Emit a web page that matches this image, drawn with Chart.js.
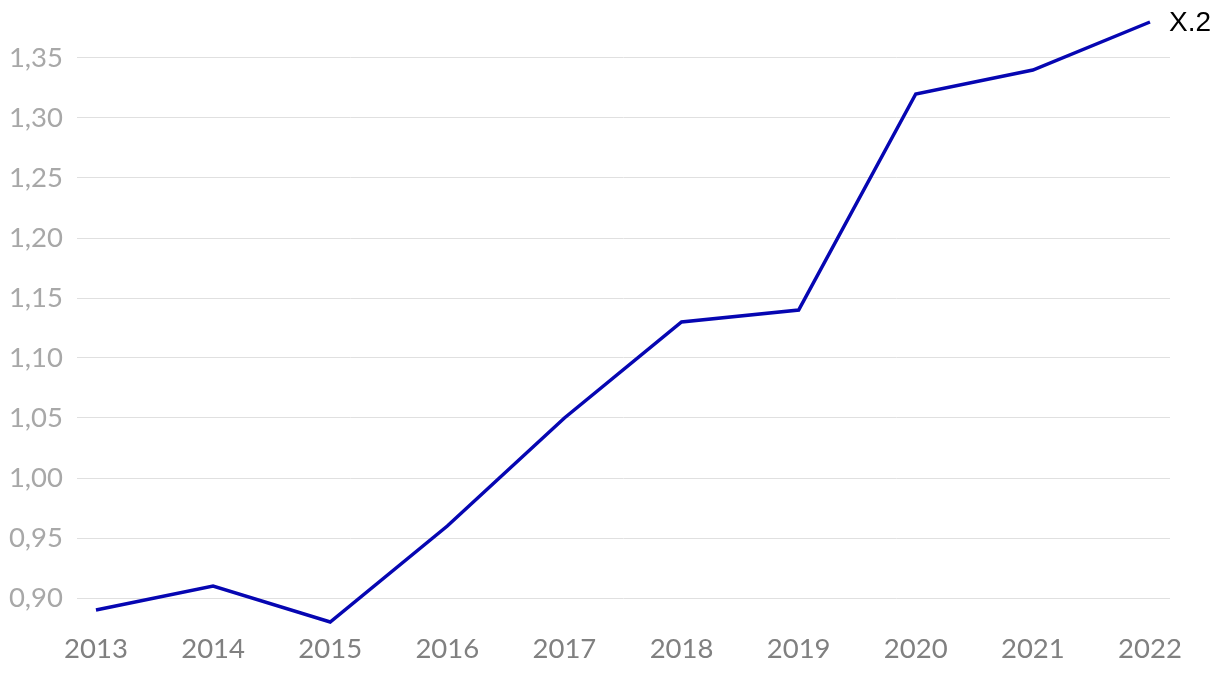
<!DOCTYPE html>
<html>
<head>
<meta charset="utf-8">
<script src="https://cdn.jsdelivr.net/npm/chart.js@4/dist/chart.umd.min.js"></script>
<style>
html,body{margin:0;padding:0;background:#fff;}
#wrap{width:1220px;height:678px;position:relative;}
</style>
</head>
<body>
<div id="wrap"><canvas id="c"></canvas></div>
<script>
const years = [2013, 2014, 2015, 2016, 2017, 2018, 2019, 2020, 2021, 2022];
const seriesX2 = [0.89, 0.91, 0.88, 0.96, 1.05, 1.13, 1.14, 1.32, 1.34, 1.38];
const yTicks = [0.90, 0.95, 1.00, 1.05, 1.10, 1.15, 1.20, 1.25, 1.30, 1.35];
const seriesName = 'X.2';

const endLabel = {
  id: 'endLabel',
  afterDatasetsDraw(chart) {
    const ctx = chart.ctx;
    const xs = chart.scales.x, ys = chart.scales.y;
    const i = years.length - 1;
    const px = xs.getPixelForValue(years[i]) + 19;
    const py = ys.getPixelForValue(seriesX2[i]) + 1;
    ctx.save();
    ctx.font = '28px "Liberation Sans", Arial, sans-serif';
    ctx.fillStyle = '#000';
    ctx.textAlign = 'left';
    ctx.textBaseline = 'middle';
    ctx.fillText(seriesName, px, py);
    ctx.restore();
  }
};

new Chart(document.getElementById('c'), {
  type: 'line',
  data: {
    datasets: [{
      label: seriesName,
      data: years.map((y, i) => ({x: y, y: seriesX2[i]})),
      borderColor: '#0606b2',
      borderWidth: 3.5,
      pointRadius: 0,
      tension: 0,
      clip: false
    }]
  },
  options: {
    responsive: true,
    maintainAspectRatio: false,
    animation: false,
    layout: {padding: {top: 22, right: 50, left: 0, bottom: 0}},
    plugins: {legend: {display: false}, tooltip: {enabled: false}},
    scales: {
      x: {
        type: 'linear',
        min: 2012.838,
        max: 2022.171,
        afterBuildTicks(scale) { scale.ticks = years.map(v => ({value: v})); },
        afterFit(scale) { scale.height = 56; scale.paddingLeft = 0; scale.paddingRight = 0; },
        grid: {display: false, drawTicks: false},
        border: {display: false},
        ticks: {
          padding: 11,
          maxRotation: 0,
          autoSkip: false,
          color: '#808080',
          font: {family: 'Lato', size: 27.5},
          callback: v => String(v)
        }
      },
      y: {
        min: 0.88,
        max: 1.38,
        afterBuildTicks(scale) { scale.ticks = yTicks.map(v => ({value: v})); },
        afterFit(scale) { scale.width = 77; scale.paddingTop = 0; scale.paddingBottom = 0; },
        grid: {color: '#e0e0e0', lineWidth: 1, drawTicks: false},
        border: {display: false},
        ticks: {
          padding: 14,
          color: '#a8a8a8',
          font: {family: 'Lato', size: 27.5},
          callback: v => Number(v).toFixed(2).replace('.', ',')
        }
      }
    }
  },
  plugins: [endLabel]
});
</script>
</body>
</html>
